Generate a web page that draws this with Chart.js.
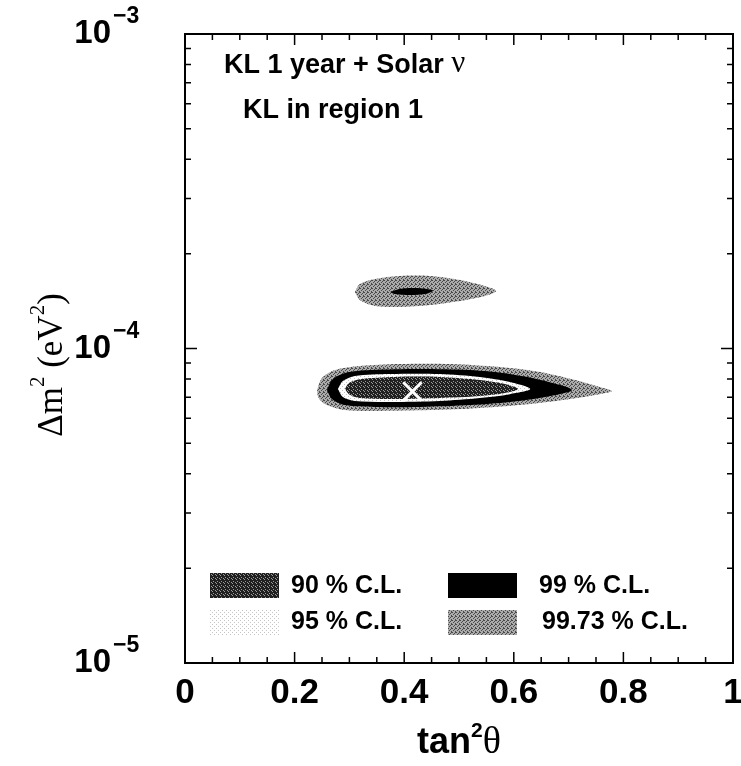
<!DOCTYPE html>
<html lang="en">

<head>
    <meta charset="UTF-8">
    <script src="https://cdn.jsdelivr.net/npm/chart.js"></script>
    <title>KL 1 year + Solar</title>
    <style>
        html, body { margin: 0; padding: 0; overflow: hidden; background: #fff; }
        .grafico { width: 741px; height: 766px; }
        canvas { display: block; }
    </style>
</head>

<body>
    <div class="grafico">
        <canvas id="grafico" width="741" height="766"></canvas>
    </div>
</body>

</html>

<script>
    // contornos (tan2theta, dm2 em eV2)
    var cl9973Baixo = [[0.241, 7.38e-5], [0.250, 8.06e-5], [0.274, 8.54e-5], [0.319, 8.80e-5], [0.392, 8.93e-5],
        [0.484, 8.93e-5], [0.575, 8.73e-5], [0.648, 8.42e-5], [0.712, 7.94e-5], [0.757, 7.54e-5], [0.779, 7.32e-5],
        [0.757, 7.16e-5], [0.703, 6.91e-5], [0.630, 6.66e-5], [0.538, 6.47e-5], [0.447, 6.37e-5], [0.356, 6.33e-5],
        [0.292, 6.37e-5], [0.255, 6.66e-5], [0.243, 7.01e-5], [0.241, 7.38e-5]]
    var cl99Baixo = [[0.259, 7.38e-5], [0.268, 7.94e-5], [0.292, 8.36e-5], [0.338, 8.54e-5], [0.429, 8.61e-5],
        [0.520, 8.54e-5], [0.593, 8.30e-5], [0.657, 7.88e-5], [0.706, 7.38e-5], [0.657, 7.01e-5], [0.593, 6.76e-5],
        [0.520, 6.61e-5], [0.429, 6.52e-5], [0.347, 6.52e-5], [0.292, 6.61e-5], [0.268, 6.91e-5], [0.259, 7.38e-5]]
    var cl95Baixo = [[0.279, 7.43e-5], [0.288, 7.88e-5], [0.310, 8.18e-5], [0.374, 8.30e-5], [0.465, 8.30e-5],
        [0.538, 8.12e-5], [0.593, 7.82e-5], [0.630, 7.43e-5], [0.593, 7.16e-5], [0.538, 6.96e-5], [0.465, 6.81e-5],
        [0.374, 6.76e-5], [0.310, 6.81e-5], [0.288, 7.01e-5], [0.279, 7.43e-5]]
    var cl90Baixo = [[0.292, 7.43e-5], [0.299, 7.77e-5], [0.319, 7.99e-5], [0.383, 8.12e-5], [0.465, 8.12e-5],
        [0.538, 7.94e-5], [0.584, 7.71e-5], [0.608, 7.43e-5], [0.584, 7.22e-5], [0.538, 7.06e-5], [0.465, 6.96e-5],
        [0.383, 6.91e-5], [0.319, 6.96e-5], [0.299, 7.16e-5], [0.292, 7.43e-5]]
    var cl9973Cima = [[0.310, 1.512e-4], [0.319, 1.603e-4], [0.347, 1.663e-4], [0.392, 1.700e-4], [0.447, 1.700e-4],
        [0.502, 1.651e-4], [0.547, 1.580e-4], [0.568, 1.523e-4], [0.547, 1.468e-4], [0.502, 1.416e-4],
        [0.447, 1.375e-4], [0.392, 1.355e-4], [0.347, 1.365e-4], [0.319, 1.426e-4], [0.310, 1.512e-4]]
    var cl99Cima = [[0.374, 1.512e-4], [0.392, 1.546e-4], [0.420, 1.557e-4], [0.453, 1.530e-4], [0.438, 1.490e-4],
        [0.411, 1.479e-4], [0.383, 1.490e-4], [0.374, 1.512e-4]]
    var melhorAjuste = [0.415, 7.3e-5]

    var xTicks = [0, 0.2, 0.4, 0.6, 0.8, 1]
    var yDecadas = [-5, -4, -3]
    var legendas = ['90 % C.L.', '99 % C.L.', '95 % C.L.', '99.73 % C.L.']
    var textos = ['KL 1 year + Solar ', 'KL in region 1']

    function pts(lista) {
        return lista.map(p => ({ x: p[0], y: p[1] }))
    }

    // padroes pontilhados (sem aleatorio)
    function padrao(base, pontos, cor) {
        var c = document.createElement('canvas')
        c.width = 4; c.height = 4
        var g = c.getContext('2d')
        g.fillStyle = base
        g.fillRect(0, 0, 4, 4)
        g.fillStyle = cor
        pontos.forEach(p => g.fillRect(p[0], p[1], 1, 1))
        return g.createPattern(c, 'repeat')
    }

    var cinza = padrao('#ababab', [[0, 0], [2, 1], [1, 2], [3, 3], [3, 0]], '#4a4a4a')
    var escuro = padrao('#202020', [[1, 1], [3, 2], [0, 3]], '#9a9a9a')
    var claro = padrao('#ffffff', [[0, 0], [2, 2]], '#c4c4c4')
    var preto = '#000000'

    function contorno(dados, cor, ordem) {
        return {
            data: pts(dados),
            backgroundColor: cor,
            borderColor: typeof cor === 'string' ? cor : 'rgba(0,0,0,0)',
            borderWidth: 0,
            pointRadius: 0,
            tension: 0.3,
            fill: 'shape',
            order: ordem
        }
    }

    var sans = '"Liberation Sans", Arial, sans-serif'
    var serif = '"Liberation Serif", "Times New Roman", serif'

    // desenha pedacos de texto com tamanhos/deslocamentos diferentes
    function textoPartes(ctx, partes, x, y, centro) {
        var total = 0
        partes.forEach(p => { ctx.font = p[1]; total += ctx.measureText(p[0]).width })
        var cx = centro ? x - total / 2 : x
        partes.forEach(p => {
            ctx.font = p[1]
            ctx.fillText(p[0], cx, y + p[2])
            cx += ctx.measureText(p[0]).width
        })
    }

    var moldura = {
        id: 'moldura',
        afterDraw(chart) {
            var ctx = chart.ctx
            var a = chart.chartArea
            var sx = chart.scales.x
            var sy = chart.scales.y
            ctx.save()
            ctx.strokeStyle = '#000'
            ctx.lineWidth = 2
            ctx.strokeRect(a.left, a.top, a.right - a.left, a.bottom - a.top)

            // ticks para dentro
            ctx.lineWidth = 1.5
            ctx.beginPath()
            for (var i = 0; i <= 20; i++) {
                var px = sx.getPixelForValue(i * 0.05)
                var len = i % 4 === 0 ? 11 : 6
                ctx.moveTo(px, a.bottom); ctx.lineTo(px, a.bottom - len)
                ctx.moveTo(px, a.top); ctx.lineTo(px, a.top + len)
            }
            for (var d = -5; d < -3; d++) {
                for (var k = 1; k <= 9; k++) {
                    var py = sy.getPixelForValue(k * Math.pow(10, d))
                    var l = k === 1 ? 12 : 6
                    ctx.moveTo(a.left, py); ctx.lineTo(a.left + l, py)
                    ctx.moveTo(a.right, py); ctx.lineTo(a.right - l, py)
                }
            }
            ctx.stroke()

            // rotulos do eixo x
            ctx.fillStyle = '#000'
            ctx.textAlign = 'center'
            ctx.textBaseline = 'middle'
            ctx.font = 'bold 35px ' + sans
            xTicks.forEach(v => ctx.fillText(String(v), sx.getPixelForValue(v), 693))

            // rotulos do eixo y
            yDecadas.forEach(d => {
                var py = sy.getPixelForValue(Math.pow(10, d))
                ctx.font = 'bold 33px ' + sans
                ctx.textAlign = 'right'
                ctx.fillText('10', 111, py)
                ctx.font = 'bold 23px ' + sans
                ctx.textAlign = 'left'
                ctx.fillText('\u2212' + (-d), 113, py - 17)
            })

            // titulo do eixo y
            ctx.save()
            ctx.translate(62, 365)
            ctx.rotate(-Math.PI / 2)
            ctx.textBaseline = 'alphabetic'
            ctx.textAlign = 'left'
            textoPartes(ctx, [['\u0394m', '35px ' + serif, 0], ['2', '21px ' + serif, -18], [' (eV', '35px ' + serif, 0],
                ['2', '21px ' + serif, -18], [')', '35px ' + serif, 0]], 0, 0, true)
            ctx.restore()

            // titulo do eixo x
            ctx.textAlign = 'left'
            ctx.textBaseline = 'alphabetic'
            textoPartes(ctx, [['tan', 'bold 36px ' + sans, 0], ['2', 'bold 21px ' + sans, -16],
                ['\u03b8', '38px ' + serif, 0]], (a.left + a.right) / 2, 753, true)

            // textos no grafico
            ctx.textBaseline = 'middle'
            ctx.font = 'bold 27px ' + sans
            ctx.fillText(textos[0], 224, 66)
            var w = ctx.measureText(textos[0]).width
            ctx.font = '31px ' + serif
            ctx.fillText('\u03bd', 224 + w, 64)
            ctx.font = 'bold 27px ' + sans
            ctx.fillText(textos[1], 243, 111)

            // legenda
            var caixas = [[210, 573, escuro, 291, 586], [448, 573, preto, 539, 586],
                [210, 610, claro, 291, 622], [448, 610, cinza, 542, 622]]
            ctx.font = 'bold 25px ' + sans
            caixas.forEach((c, i) => {
                ctx.fillStyle = c[2]
                ctx.fillRect(c[0], c[1], 69, 25)
                ctx.fillStyle = '#000'
                ctx.fillText(legendas[i], c[3], c[4])
            })
            ctx.restore()
        }
    }

    var grafico = new Chart(document.getElementById('grafico').getContext('2d'), {
        type: 'line',
        data: {
            datasets: [
                contorno(cl9973Baixo, cinza, 6),
                contorno(cl99Baixo, preto, 5),
                contorno(cl95Baixo, claro, 4),
                contorno(cl90Baixo, escuro, 3),
                contorno(cl9973Cima, cinza, 6),
                contorno(cl99Cima, preto, 5),
                {
                    data: [{ x: melhorAjuste[0], y: melhorAjuste[1] }],
                    showLine: false,
                    pointStyle: 'crossRot',
                    pointRadius: 13,
                    borderColor: '#fff',
                    borderWidth: 3,
                    order: 0
                }
            ]
        },
        options: {
            responsive: false,
            animation: false,
            layout: { autoPadding: false, padding: { left: 0, top: 34, right: 8, bottom: 0 } },
            plugins: {
                legend: { display: false },
                tooltip: { enabled: false }
            },
            scales: {
                x: {
                    type: 'linear',
                    min: 0,
                    max: 1,
                    afterFit: s => { s.height = 103 },
                    grid: { display: false },
                    border: { display: false },
                    ticks: { display: false }
                },
                y: {
                    type: 'logarithmic',
                    min: 1e-5,
                    max: 1e-3,
                    afterFit: s => { s.width = 185 },
                    grid: { display: false },
                    border: { display: false },
                    ticks: { display: false }
                }
            }
        },
        plugins: [moldura]
    });
</script>
